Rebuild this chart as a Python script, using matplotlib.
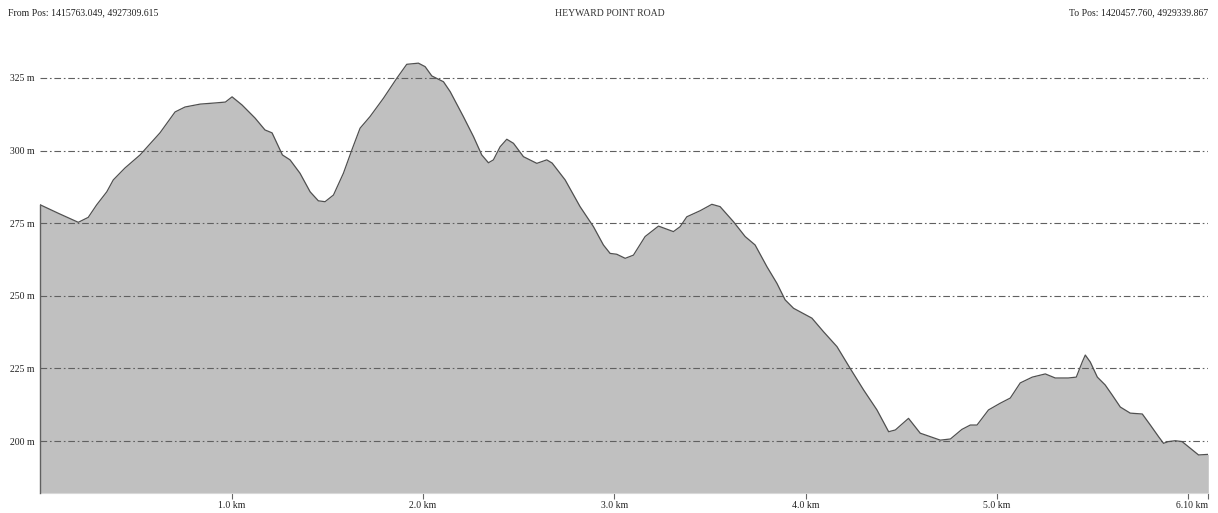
import matplotlib
matplotlib.use("Agg")
import matplotlib.pyplot as plt

# Elevation profile: distance along the road (km) and elevation (m)
distance_km = [
    0.000, 0.094, 0.198, 0.250, 0.294, 0.347, 0.381, 0.442, 0.521, 0.625,
    0.704, 0.756, 0.835, 0.914, 0.967, 1.002, 1.054, 1.122, 1.174, 1.211,
    1.265, 1.305, 1.357, 1.410, 1.453, 1.488, 1.532, 1.584, 1.628, 1.671,
    1.723, 1.793, 1.863, 1.915, 1.976, 2.011, 2.046, 2.107, 2.142, 2.211,
    2.264, 2.307, 2.342, 2.368, 2.403, 2.438, 2.473, 2.525, 2.595, 2.647,
    2.675, 2.743, 2.821, 2.891, 2.943, 2.978, 3.013, 3.057, 3.100, 3.161,
    3.231, 3.309, 3.344, 3.379, 3.449, 3.510, 3.553, 3.623, 3.684, 3.736,
    3.798, 3.850, 3.893, 3.937, 4.033, 4.094, 4.164, 4.233, 4.303, 4.373,
    4.434, 4.469, 4.538, 4.599, 4.643, 4.704, 4.757, 4.817, 4.861, 4.896,
    4.956, 5.017, 5.070, 5.122, 5.185, 5.253, 5.305, 5.373, 5.415, 5.446,
    5.462, 5.488, 5.525, 5.566, 5.603, 5.645, 5.697, 5.760, 5.802, 5.845,
    5.871, 5.897, 5.932, 5.968, 6.011, 6.054, 6.105,
]
elevation_m = [
    281.3, 278.4, 275.3, 277.0, 281.3, 285.8, 289.9, 294.0, 298.5, 306.1,
    313.3, 315.0, 316.0, 316.4, 316.7, 318.5, 315.7, 311.2, 307.1, 306.1,
    298.5, 296.8, 292.2, 285.8, 282.7, 282.4, 284.7, 292.2, 300.2, 307.7,
    311.7, 318.0, 324.9, 329.7, 330.1, 328.9, 325.7, 323.7, 320.3, 311.7,
    304.8, 298.5, 295.8, 296.8, 301.3, 303.9, 302.5, 297.9, 295.6, 296.8,
    295.7, 289.9, 280.7, 273.8, 267.5, 264.6, 264.3, 262.9, 264.0, 270.4,
    274.0, 272.1, 273.8, 277.2, 279.3, 281.5, 280.7, 275.5, 270.4, 267.5,
    260.0, 254.3, 248.6, 245.7, 242.3, 237.6, 232.5, 225.0, 217.6, 210.7,
    203.2, 203.8, 207.8, 202.7, 201.7, 200.3, 200.7, 204.0, 205.5, 205.5,
    210.7, 213.0, 214.8, 220.0, 222.0, 223.1, 221.7, 221.7, 222.0, 227.2,
    229.6, 227.2, 222.0, 219.3, 215.8, 211.7, 209.6, 209.3, 205.5, 201.5,
    199.2, 199.8, 200.1, 199.8, 197.5, 195.2, 195.4,
]

grid_levels = [200, 225, 250, 275, 300, 325]
grid_labels = ["200 m", "225 m", "250 m", "275 m", "300 m", "325 m"]
total_km = 6.105
km_ticks = [1.0, 2.0, 3.0, 4.0, 5.0, 6.0, total_km]
km_labels = ["1.0 km", "2.0 km", "3.0 km", "4.0 km", "5.0 km", "", "6.10 km"]

title = "HEYWARD POINT ROAD"
from_text = "From Pos: 1415763.049, 4927309.615"
to_text = "To Pos: 1420457.760, 4929339.867"

plt.rcParams["font.family"] = ["Liberation Serif", "DejaVu Serif"]

W, H = 1218, 513
fig = plt.figure(figsize=(W / 100, H / 100), dpi=100)
left_px, right_px, top_px, bottom_px = 40.4, 1208.3, 34.4, 493.0
ax = fig.add_axes([left_px / W, 1 - bottom_px / H,
                   (right_px - left_px) / W, (bottom_px - top_px) / H])

ymin, ymax = 182.1, 340.0
ax.set_xlim(0, total_km)
ax.set_ylim(ymin, ymax)

ax.fill_between(distance_km, elevation_m, ymin, color="#c0c0c0", lw=0, zorder=1)
ax.plot(distance_km, elevation_m, color="#505050", lw=0.9, zorder=3)
ax.plot([0, 0], [ymin, elevation_m[0]], color="#606060", lw=1.0, zorder=3,
        clip_on=False)

for lvl in grid_levels:
    ax.axhline(lvl, color="#606060", lw=0.8,
               linestyle=(0, (6, 2.5, 1.5, 2.5)), zorder=2)

ax.set_yticks(grid_levels)
ax.set_yticklabels(grid_labels)
ax.tick_params(axis="y", length=0, pad=4, labelsize=7, labelcolor="#222222")

ax.set_xticks(km_ticks)
ax.set_xticklabels(km_labels)
ax.tick_params(axis="x", length=4, width=0.8, color="#666666", pad=2,
               labelsize=7, labelcolor="#222222")
ax.get_xticklabels()[-1].set_horizontalalignment("right")

for side in ("top", "right", "left"):
    ax.spines[side].set_visible(False)
ax.spines["bottom"].set_color("#d8d8d8")
ax.spines["bottom"].set_linewidth(0.8)

fig.text(8 / W, 1 - 13 / H, from_text, ha="left", va="center", fontsize=7,
         color="#222222")
fig.text(610 / W, 1 - 13 / H, title, ha="center", va="center", fontsize=7,
         color="#333333")
fig.text(1208 / W, 1 - 13 / H, to_text, ha="right", va="center", fontsize=7,
         color="#222222")

fig.savefig("out.png", dpi=100, facecolor="white")
